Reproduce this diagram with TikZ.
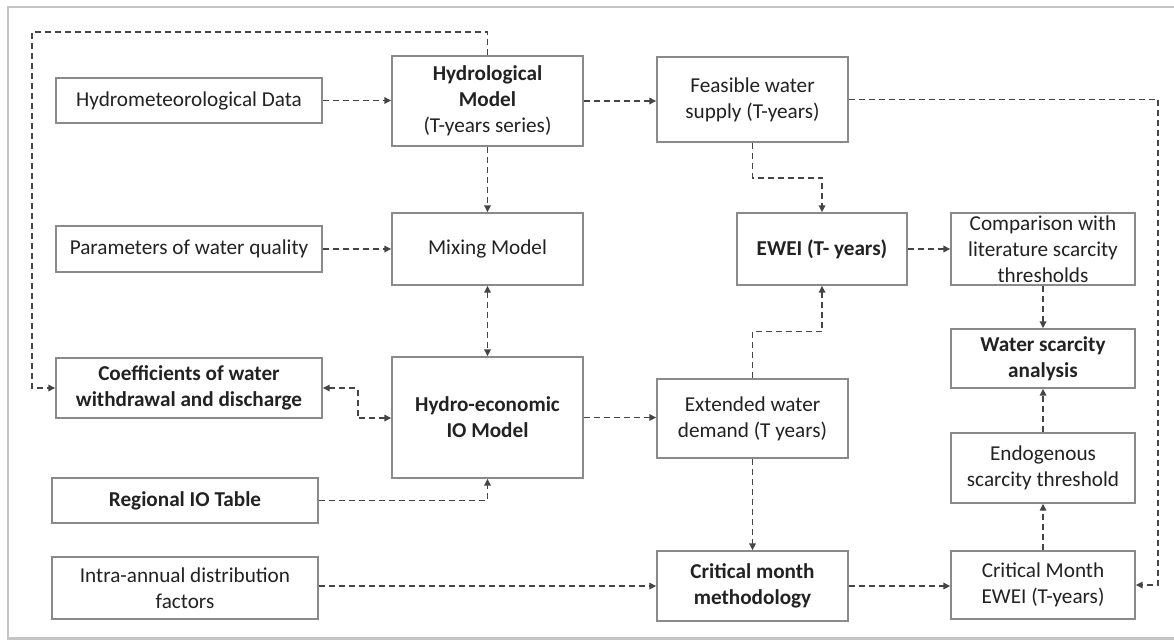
\documentclass[tikz,border=0pt]{standalone}
\usepackage{fontspec}
\setmainfont{Carlito}
\usetikzlibrary{arrows.meta,calc}
\definecolor{boxgray}{HTML}{8A8A8A}
\definecolor{arrgray}{HTML}{454545}
\definecolor{txt}{HTML}{222222}
\definecolor{outergray}{HTML}{C4C4C4}
\begin{document}
\begin{tikzpicture}[x=1pt,y=-1pt,
  font=\fontsize{21.2}{26}\selectfont,
  box/.style={draw=boxgray, line width=1.4pt, fill=white, align=center, inner sep=0pt, text=txt},
  arr/.style={draw=arrgray, line width=1.6pt, dash pattern=on 6pt off 4pt, -{Triangle[length=7pt,width=6.5pt]}},
  arrboth/.style={arr, {Triangle[length=7pt,width=6.5pt]}-{Triangle[length=7pt,width=6.5pt]}},
  outer/.style={draw=outergray, line width=2.5pt}]
\useasboundingbox (0,0) rectangle (1174,640);
\draw[outer] (1180,7) -- (8,7) -- (8,638.5) -- (1180,638.5);

\node[box, minimum width=266pt, minimum height=45pt] (hmd) at (189,100.5) {Hydrometeorological Data};
\node[box, minimum width=191pt, minimum height=90pt] (hyd) at (487.5,101) {\textbf{Hydrological}\\\textbf{Model}\\(T-years series)};
\node[box, minimum width=191pt, minimum height=85pt] (fws) at (752.5,99.5) {Feasible water\\supply (T-years)};
\node[box, minimum width=266pt, minimum height=46pt] (pwq) at (189,249) {Parameters of water quality};
\node[box, minimum width=191pt, minimum height=72pt] (mix) at (487.5,249) {Mixing Model};
\node[box, minimum width=170pt, minimum height=72pt] (ewei) at (822,249) {\textbf{EWEI (T- years)}};
\node[box, minimum width=184pt, minimum height=72pt] (cmp) at (1043,249) {Comparison with\\literature scarcity\\thresholds};
\node[box, minimum width=184pt, minimum height=59pt] (wsa) at (1043,358.5) {\textbf{Water scarcity}\\\textbf{analysis}};
\node[box, minimum width=266pt, minimum height=60pt] (coef) at (189,388) {\textbf{Coefficients of water}\\\textbf{withdrawal and discharge}};
\node[box, minimum width=191pt, minimum height=121pt] (hio) at (487.5,417.5) {\textbf{Hydro-economic}\\\textbf{IO Model}};
\node[box, minimum width=191pt, minimum height=79pt] (ext) at (752.5,418.5) {Extended water\\demand (T years)};
\node[box, minimum width=184pt, minimum height=70pt] (endo) at (1043,468) {Endogenous\\scarcity threshold};
\node[box, minimum width=266pt, minimum height=45pt] (rio) at (185,500.5) {\textbf{Regional IO Table}};
\node[box, minimum width=266pt, minimum height=62pt] (intra) at (185,588) {Intra-annual distribution\\factors};
\node[box, minimum width=191pt, minimum height=70pt] (cmm) at (752.5,586) {\textbf{Critical month}\\\textbf{methodology}};
\node[box, minimum width=184pt, minimum height=68pt] (cme) at (1043,585) {Critical Month\\EWEI (T-years)};

\coordinate (lt) at (32,32);
\coordinate (rt) at (1158,0);

\draw[arr] (hmd.east) -- (hmd.east -| hyd.west);
\draw[arr] (hyd.east) -- (hyd.east -| fws.west);
\draw[arr] (hyd.south) -- (mix.north);
\draw[arr] (pwq.east) -- (mix.west);
\draw[arrboth] (mix.south) -- (hio.north);
\draw[arr] (hyd.north) |- (lt) |- (coef.west);
\draw[arrboth] (coef.east) -- ++(35,0) |- ($(hio.west)+(0,0.5)$);
\draw[arr] (rio.east) -| (hio.south);
\draw[arr] (hio.east) -- (hio.east -| ext.west);
\draw[arr] (ext.north) -- ++(0,-47) -| (ewei.south);
\draw[arr] (fws.south) -- ++(0,35) -| (ewei.north);
\draw[arr] (fws.east) -- (fws.east -| rt) |- (cme.east);
\draw[arr] (ewei.east) -- (cmp.west);
\draw[arr] (cmp.south) -- (wsa.north);
\draw[arr] (endo.north) -- (wsa.south);
\draw[arr] (cme.north) -- (endo.south);
\draw[arr] (ext.south) -- (cmm.north);
\draw[arr] (cmm.west -| intra.east) -- (cmm.west);
\draw[arr] (cmm.east) -- (cmm.east -| cme.west);
\end{tikzpicture}
\end{document}
